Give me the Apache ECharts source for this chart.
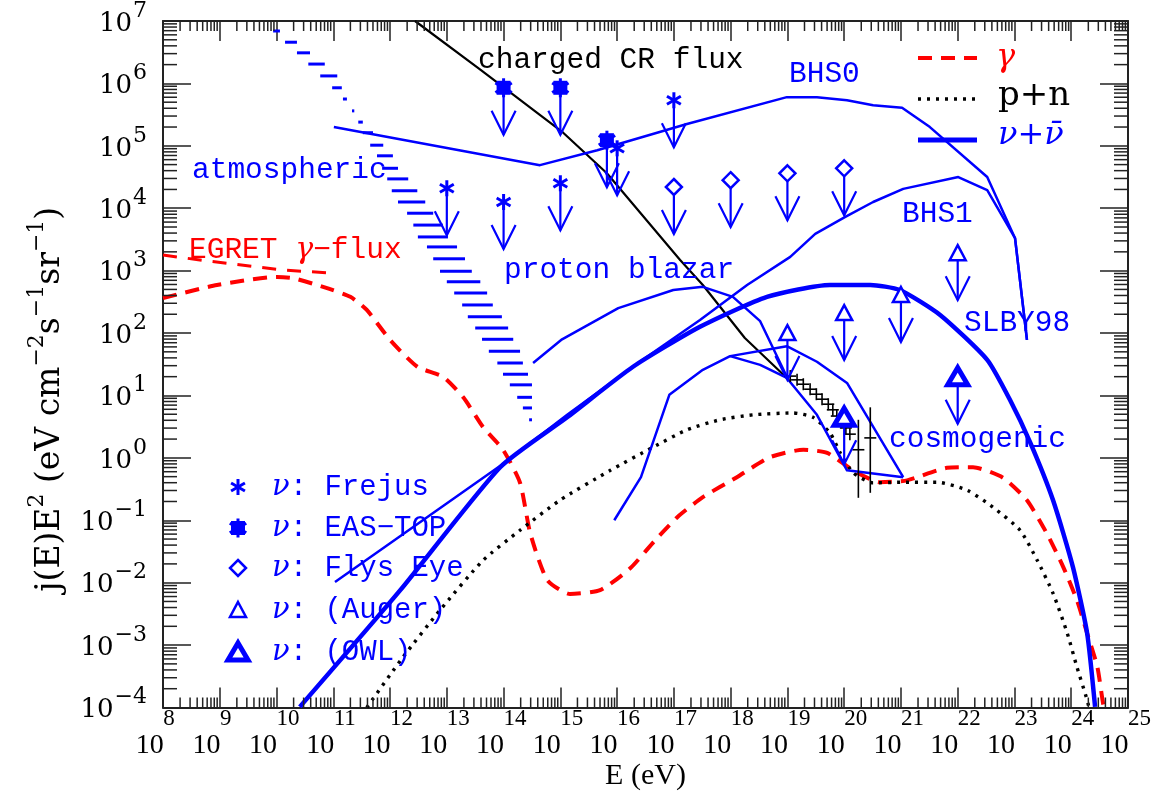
<!DOCTYPE html>
<html><head><meta charset="utf-8">
<script src="https://cdn.jsdelivr.net/npm/echarts@6/dist/echarts.min.js"></script>
<style>html,body{margin:0;padding:0;background:#fff}#c{width:1173px;height:804px}</style>
</head><body><div id="c"></div>
<script>
// All values are log10: x = log10(E / eV), y = log10( j(E)E^2 / eV cm^-2 s^-1 sr^-1 )
const xTickExp = [8,9,10,11,12,13,14,15,16,17,18,19,20,21,22,23,24,25];
const xTickLabels = ['8','9','10','11','12','13','14','15','16','17','18','19','20','21','22','23','24','25'];
const yTickExp = [-4,-3,-2,-1,0,1,2,3,4,5,6,7];
const yTickLabels = ['−4','−3','−2','−1','0','1','2','3','4','5','6','7'];

// charged cosmic ray flux (black solid)
const crE = [12.44, 13.59, 15.05, 15.82, 17.11, 17.51, 18.25, 18.99];
const crF = [7.00, 6.22, 5.21, 4.56, 3.17, 2.77, 1.92, 1.28];
// highest-energy CR data points (black crosses)
const crDataE = [19.05, 19.17, 19.28, 19.40, 19.51, 19.61, 19.72, 19.80, 19.87, 19.95, 20.03, 20.10, 20.25, 20.46];
const crDataF = [1.31, 1.25, 1.18, 1.10, 1.02, 0.94, 0.86, 0.77, 0.67, 0.57, 0.48, 0.38, 0.13, 0.32];
const crDataHi = [null, null, null, null, null, null, null, null, null, null, null, null, 0.61, 0.81];
const crDataLo = [null, null, null, null, null, null, null, null, null, null, null, null, -0.64, -0.56];

// p+n (black dotted)
const pnE = [11.59, 12.23, 12.88, 13.64, 14.29, 14.99, 15.88, 16.63, 17.23, 17.81, 18.40, 19.10, 19.45, 19.75, 19.93, 20.16, 20.51, 21.04, 21.64, 22.17, 22.62, 23.10, 23.40, 23.68, 23.93, 24.10, 24.28, 24.33];
const pnF = [-4.0, -3.19, -2.44, -1.64, -1.16, -0.68, -0.20, 0.17, 0.45, 0.61, 0.69, 0.72, 0.65, 0.40, 0.08, -0.24, -0.40, -0.39, -0.39, -0.52, -0.79, -1.16, -1.64, -2.17, -2.81, -3.35, -3.88, -4.07];

// gamma (red dashed)
const gamE = [8.0, 8.95, 10.01, 10.29, 10.82, 11.30, 11.59, 12.0, 12.48, 12.93, 13.29, 13.64, 13.99, 14.29, 14.47, 14.77, 15.17, 15.70, 16.23, 16.67, 17.06, 17.51, 18.11, 18.69, 19.28, 19.70, 20.16, 20.63, 21.11, 21.81, 22.27, 22.80, 23.22, 23.57, 23.86, 24.10, 24.28, 24.46, 24.56, 24.60];
const gamF = [2.56, 2.77, 2.90, 2.88, 2.74, 2.58, 2.37, 1.89, 1.46, 1.30, 0.97, 0.49, 0.13, -0.40, -1.21, -1.96, -2.18, -2.12, -1.77, -1.32, -0.95, -0.63, -0.31, 0.01, 0.13, 0.08, -0.20, -0.39, -0.36, -0.16, -0.15, -0.32, -0.68, -1.21, -1.75, -2.28, -2.81, -3.35, -3.93, -4.07];
// EGRET gamma flux (red dashed, upper)
const egretE = [8.0, 8.65, 10.11, 10.98];
const egretF = [3.25, 3.17, 3.01, 2.96];

// neutrino models (blue)
const bhs0E = [11.01, 14.64, 15.65, 17.23, 18.99, 19.52, 20.05, 20.51, 21.02, 21.51, 22.52, 23.01, 23.22];
const bhs0F = [5.30, 4.69, 4.93, 5.35, 5.78, 5.78, 5.73, 5.65, 5.61, 5.30, 4.50, 3.52, 1.89];
const bhs1E = [11.03, 14.03, 15.12, 16.40, 17.46, 18.29, 19.05, 19.49, 20.02, 20.51, 21.04, 22.01, 22.52, 23.01, 23.22];
const bhs1F = [-1.99, -0.07, 0.69, 1.54, 2.21, 2.77, 3.22, 3.59, 3.86, 4.10, 4.31, 4.50, 4.29, 3.52, 1.89];
const slbyE = [10.41, 12.18, 13.94, 15.12, 16.28, 17.46, 18.64, 19.75, 20.46, 20.98, 21.69, 22.52, 22.92, 23.28, 23.68, 24.03, 24.28, 24.42];
const slbyF = [-3.99, -2.12, -0.15, 0.65, 1.46, 2.10, 2.58, 2.77, 2.77, 2.69, 2.29, 1.57, 0.93, 0.24, -0.68, -1.75, -2.81, -3.99];
const blazarE = [14.52, 15.03, 16.02, 16.99, 17.51, 18.04, 18.52, 18.99];
const blazarF = [1.52, 1.90, 2.40, 2.69, 2.74, 2.58, 2.19, 1.30];
const cosmo1E = [15.95, 16.42, 16.92, 17.51, 17.99, 18.99, 19.52, 20.05, 21.04];
const cosmo1F = [-1.00, -0.31, 1.01, 1.41, 1.63, 1.79, 1.54, 1.20, -0.31];
const cosmo2E = [17.99, 18.52, 18.99, 19.52, 20.05, 21.04];
const cosmo2F = [1.63, 1.49, 1.28, 0.69, -0.20, -0.31];

// atmospheric neutrino band (horizontal dashes): flux, low-E end, high-E end
const atmF  = [6.84, 6.66, 6.49, 6.31, 6.12, 5.93, 5.75, 5.56, 5.38, 5.21, 5.01, 4.84, 4.64, 4.47, 4.28, 4.10, 3.92, 3.73, 3.54, 3.38, 3.19, 2.99, 2.82, 2.64, 2.45, 2.26, 2.08, 1.90, 1.71, 1.52, 1.34, 1.17, 0.97, 0.80, 0.61];
const atmLo = [9.94, 10.15, 10.36, 10.56, 10.77, 10.98, 11.17, 11.33, 11.44, 11.52, 11.65, 11.77, 11.86, 11.95, 12.03, 12.14, 12.30, 12.41, 12.49, 12.65, 12.76, 12.88, 13.00, 13.13, 13.27, 13.37, 13.50, 13.62, 13.74, 13.89, 13.99, 14.11, 14.24, 14.34, 14.45];
const atmHi = [10.06, 10.36, 10.59, 10.85, 11.07, 11.15, 11.24, 11.37, 11.52, 11.70, 11.88, 12.05, 12.14, 12.32, 12.48, 12.62, 12.76, 12.93, 13.02, 13.18, 13.32, 13.44, 13.59, 13.71, 13.81, 13.97, 14.08, 14.17, 14.29, 14.34, 14.43, 14.50, 14.50, 14.50, 14.50];

// neutrino upper limits (marker at the limit, arrow downward)
const frejusE = [13, 14, 15, 16, 17];
const frejusF = [4.32, 4.10, 4.40, 4.96, 5.73];
const easTopE = [14, 15, 15.82];
const easTopF = [5.93, 5.93, 5.09];
const flysEyeE = [17, 18, 19, 20];
const flysEyeF = [4.34, 4.45, 4.56, 4.64];
const augerE = [19, 20, 21, 22];
const augerF = [2.00, 2.32, 2.61, 3.28];
const owlE = [20, 22];
const owlF = [0.65, 1.30];

const legendNames = ['Frejus', 'EAS−TOP', 'Flys Eye', '(Auger)', '(OWL)'];

// ---------------- styling / building ----------------
const BLUE = '#0000ff', RED = '#ff0000', BLACK = '#000000', AXIS = '#222222';
const MONO = '"Liberation Mono", "DejaVu Sans Mono", monospace';
const SERIF = '"DejaVu Serif", serif';
const TSERIF = '"Liberation Serif", serif';

function pts(xs, ys) { return xs.map((x, i) => [x, ys[i]]); }
function lineSeries(name, xs, ys, color, width, dash, z, smooth) {
  return { name, type: 'line', data: pts(xs, ys), showSymbol: false, symbol: 'none', clip: true, silent: true,
    smooth: smooth || false,
    lineStyle: { color, width, type: dash || 'solid', cap: 'butt', join: 'round' }, z: z || 3 };
}

function markerEls(kind, x, y) {
  const ast = (r, lw) => {
    const c = 0.866 * r, h = 0.5 * r, s = { stroke: BLUE, lineWidth: lw };
    return [
      { type: 'line', shape: { x1: x, y1: y - r, x2: x, y2: y + r }, style: s },
      { type: 'line', shape: { x1: x - c, y1: y - h, x2: x + c, y2: y + h }, style: s },
      { type: 'line', shape: { x1: x - c, y1: y + h, x2: x + c, y2: y - h }, style: s }
    ];
  };
  if (kind === 0) return { els: ast(8, 3), bottom: y };
  if (kind === 1) return { els: [{ type: 'rect', shape: { x: x - 7, y: y - 7, width: 14, height: 14 }, style: { fill: BLUE } }].concat(ast(9.5, 3)), bottom: y };
  if (kind === 2) return { els: [{ type: 'polygon', shape: { points: [[x, y - 8], [x + 8, y], [x, y + 8], [x - 8, y]] }, style: { stroke: BLUE, lineWidth: 2.5, fill: '#fff' } }], bottom: y + 8 };
  if (kind === 3) return { els: [{ type: 'polygon', shape: { points: [[x, y - 8], [x + 8, y + 7], [x - 8, y + 7]] }, style: { stroke: BLUE, lineWidth: 2.5, fill: '#fff' } }], bottom: y + 7 };
  return { els: [{ type: 'polygon', shape: { points: [[x, y - 9], [x + 10, y + 8], [x - 10, y + 8]] }, style: { stroke: BLUE, lineWidth: 5, fill: '#fff' } }], bottom: y + 8 };
}

const limitData = [];
[[frejusE, frejusF, 0], [easTopE, easTopF, 1], [flysEyeE, flysEyeF, 2], [augerE, augerF, 3], [owlE, owlF, 4]]
  .forEach(([es, fs, k]) => es.forEach((e, i) => limitData.push([e, fs[i], k])));

const atmData = atmF.map((f, i) => [atmLo[i], f, atmHi[i]]);
const crPoints = crDataE.map((e, i) => [e, crDataF[i],
  crDataLo[i] === null ? crDataF[i] : crDataLo[i], crDataHi[i] === null ? crDataF[i] : crDataHi[i]]);

const xMin = xTickExp[0], xMax = xTickExp[xTickExp.length - 1];
const yMin = yTickExp[0], yMax = yTickExp[yTickExp.length - 1];

const series = [
  { type: 'custom', name: 'atmospheric', coordinateSystem: 'cartesian2d', silent: true, z: 2, data: atmData,
    renderItem: (p, api) => {
      const a = api.coord([api.value(0), api.value(1)]), b = api.coord([api.value(2), api.value(1)]);
      return { type: 'line', shape: { x1: a[0], y1: a[1], x2: b[0], y2: b[1] }, style: { stroke: BLUE, lineWidth: 3 } };
    } },
  lineSeries('EGRET', egretE, egretF, RED, 3, [14, 11], 3),
  lineSeries('gamma', gamE, gamF, RED, 4, [14, 9], 3, 0.2),
  lineSeries('p+n', pnE, pnF, BLACK, 3.4, [3, 6], 3, 0.2),
  lineSeries('charged CR', crE, crF, BLACK, 2.2, 'solid', 4),
  lineSeries('BHS0', bhs0E, bhs0F, BLUE, 2.5, 'solid', 5),
  lineSeries('BHS1', bhs1E, bhs1F, BLUE, 2.5, 'solid', 5),
  lineSeries('SLBY98', slbyE, slbyF, BLUE, 4.5, 'solid', 5, 0.2),
  lineSeries('proton blazar', blazarE, blazarF, BLUE, 2.5, 'solid', 5),
  lineSeries('cosmogenic1', cosmo1E, cosmo1F, BLUE, 2.5, 'solid', 5),
  lineSeries('cosmogenic2', cosmo2E, cosmo2F, BLUE, 2.5, 'solid', 5),
  { type: 'custom', name: 'CR data', coordinateSystem: 'cartesian2d', silent: true, z: 6, data: crPoints,
    renderItem: (p, api) => {
      const c = api.coord([api.value(0), api.value(1)]);
      const lo = api.coord([api.value(0), api.value(2)]), hi = api.coord([api.value(0), api.value(3)]);
      const s = { stroke: BLACK, lineWidth: 1.6 };
      return { type: 'group', children: [
        { type: 'line', shape: { x1: c[0] - 6, y1: c[1], x2: c[0] + 6, y2: c[1] }, style: s },
        { type: 'line', shape: { x1: c[0], y1: Math.min(c[1] - 6, hi[1]), x2: c[0], y2: Math.max(c[1] + 6, lo[1]) }, style: s }
      ] };
    } },
  { type: 'custom', name: 'limits', coordinateSystem: 'cartesian2d', silent: true, z: 7, data: limitData,
    renderItem: (p, api) => {
      const c = api.coord([api.value(0), api.value(1)]);
      const x = c[0], y = c[1], tip = y + 47;
      const s = { stroke: BLUE, lineWidth: 2.2, fill: 'none' };
      const m = markerEls(api.value(2), x, y);
      const children = [
        { type: 'line', shape: { x1: x, y1: m.bottom, x2: x, y2: tip }, style: s },
        { type: 'polyline', shape: { points: [[x - 12, tip - 24], [x, tip], [x + 12, tip - 24]] }, style: s }
      ].concat(m.els);
      return { type: 'group', children };
    } },
  { type: 'custom', name: 'minor ticks', coordinateSystem: 'cartesian2d', silent: true, z: 8, clip: false, data: [[xMin, yMin]],
    renderItem: (p, api) => {
      const ch = [], s = { stroke: AXIS, lineWidth: 1.5 };
      for (let n = xMin; n < xMax; n++) for (let k = 2; k <= 9; k++) {
        const v = n + Math.log10(k);
        const b = api.coord([v, yMin]), t = api.coord([v, yMax]);
        ch.push({ type: 'line', shape: { x1: b[0], y1: b[1], x2: b[0], y2: b[1] - 10 }, style: s });
        ch.push({ type: 'line', shape: { x1: t[0], y1: t[1], x2: t[0], y2: t[1] + 10 }, style: s });
      }
      for (let n = yMin; n < yMax; n++) for (let k = 2; k <= 9; k++) {
        const v = n + Math.log10(k);
        const l = api.coord([xMin, v]), r = api.coord([xMax, v]);
        ch.push({ type: 'line', shape: { x1: l[0], y1: l[1], x2: l[0] + 14, y2: l[1] }, style: s });
        ch.push({ type: 'line', shape: { x1: r[0], y1: r[1], x2: r[0] - 14, y2: r[1] }, style: s });
      }
      return { type: 'group', children: ch };
    } }
];

// ---- text & legends ----
const annotations = [
  { t: 'charged CR flux', x: 478, y: 60, c: BLACK },
  { t: 'BHS0', x: 789, y: 74, c: BLUE },
  { t: 'atmospheric', x: 192, y: 170, c: BLUE },
  { t: 'proton blazar', x: 504, y: 270, c: BLUE },
  { t: 'BHS1', x: 902, y: 214, c: BLUE },
  { t: 'SLBY98', x: 964, y: 323, c: BLUE },
  { t: 'cosmogenic', x: 889, y: 439, c: BLUE }
];
const graphic = annotations.map(a => ({ type: 'text', x: a.x, y: a.y, silent: true, z: 20,
  style: { text: a.t, fill: a.c, font: '29.5px ' + MONO, align: 'left', verticalAlign: 'middle' } }));
graphic.push({ type: 'text', x: 189, y: 250, z: 20, silent: true,
  style: { text: '{r|EGRET }{g|γ}{r|−flux}', align: 'left', verticalAlign: 'middle',
    rich: { r: { fill: RED, font: '29.5px ' + MONO }, g: { fill: RED, font: 'italic 30px ' + SERIF } } } });

// bottom-left legend
const legRowY = [487, 528, 568, 610, 652];
legendNames.forEach((nm, i) => {
  const m = markerEls(i, 238, legRowY[i]);
  graphic.push({ type: 'group', z: 20, silent: true, children: m.els });
  graphic.push({ type: 'text', x: 272, y: legRowY[i], z: 20, silent: true,
    style: { text: '{g|ν}{r|: ' + nm + '}', align: 'left', verticalAlign: 'middle',
      rich: { r: { fill: BLUE, font: '29px ' + MONO }, g: { fill: BLUE, font: 'italic 29px ' + SERIF } } } });
});
// top-right legend
graphic.push({ type: 'line', z: 20, silent: true, shape: { x1: 918, y1: 58, x2: 977, y2: 58 }, style: { stroke: RED, lineWidth: 4, lineDash: [14, 9] } });
graphic.push({ type: 'line', z: 20, silent: true, shape: { x1: 918, y1: 99, x2: 977, y2: 99 }, style: { stroke: BLACK, lineWidth: 3.4, lineDash: [3, 6] } });
graphic.push({ type: 'line', z: 20, silent: true, shape: { x1: 918, y1: 140, x2: 977, y2: 140 }, style: { stroke: BLUE, lineWidth: 5 } });
graphic.push({ type: 'text', x: 996, y: 58, z: 20, silent: true, style: { text: 'γ', fill: RED, font: 'italic 32px ' + SERIF, align: 'left', verticalAlign: 'middle' } });
graphic.push({ type: 'text', x: 998, y: 96, z: 20, silent: true, style: { text: 'p+n', fill: BLACK, font: '34px ' + SERIF, align: 'left', verticalAlign: 'middle' } });
graphic.push({ type: 'text', x: 998, y: 136, z: 20, silent: true, style: { text: 'ν+ν\u0304', fill: BLUE, font: 'italic 32px ' + SERIF, align: 'left', verticalAlign: 'middle' } });

const supX = { fontFamily: TSERIF, fontSize: 23, lineHeight: 23, color: BLACK };
const axisLine = { show: true, onZero: false, lineStyle: { color: AXIS, width: 2 } };
const option = {
  animation: false,
  backgroundColor: '#ffffff',
  grid: { left: 163, right: 45, top: 21, bottom: 96.5, containLabel: false, outerBoundsMode: 'none' },
  xAxis: [
    { type: 'value', min: xMin, max: xMax, interval: 1, position: 'bottom', axisLine, splitLine: { show: false },
      axisTick: { show: true, inside: true, length: 20, lineStyle: { color: AXIS, width: 1.5 } },
      axisLabel: { show: true, margin: 12, hideOverlap: false, align: 'center', color: BLACK,
        formatter: v => {
          const e = xTickLabels[xTickExp.indexOf(Math.round(v))];
          return '{b|10}{' + (e.length > 1 ? 's2' : 's1') + '|' + e + '}';
        },
        rich: { b: { fontFamily: TSERIF, fontSize: 28, lineHeight: 28, width: 27, padding: [24, 0, 0, 0], color: BLACK },
                s1: Object.assign({ padding: [0, 15, 29, 0] }, supX),
                s2: Object.assign({ padding: [0, 4, 29, 0] }, supX) } },
      name: 'E (eV)', nameLocation: 'middle', nameGap: 54, nameMoveOverlap: false,
      nameTextStyle: { fontFamily: TSERIF, fontSize: 30, color: BLACK } },
    { type: 'value', min: xMin, max: xMax, interval: 1, position: 'top', axisLine, splitLine: { show: false },
      axisTick: { show: true, inside: true, length: 20, lineStyle: { color: AXIS, width: 1.5 } },
      axisLabel: { show: false } }
  ],
  yAxis: [
    { type: 'value', min: yMin, max: yMax, interval: 1, position: 'left', axisLine, splitLine: { show: false },
      axisTick: { show: true, inside: true, length: 28, lineStyle: { color: AXIS, width: 1.5 } },
      axisLabel: { show: true, margin: 16, hideOverlap: false, align: 'right', color: BLACK,
        formatter: v => '{b|10}{s|' + yTickLabels[yTickExp.indexOf(Math.round(v))] + '}',
        rich: { b: { fontFamily: SERIF, fontSize: 26, lineHeight: 26, padding: [11, 0, 5, 0], color: BLACK },
                s: { fontFamily: SERIF, fontSize: 22, lineHeight: 22, padding: [0, 0, 20, 1], color: BLACK } } },
      name: '{n|j(E)E}{s|2}{n| (eV cm}{s|−2}{n|s}{s|−1}{n|sr}{s|−1}{n|)}',
      nameLocation: 'middle', nameRotate: 90, nameGap: 100, nameMoveOverlap: false,
      nameTextStyle: { color: BLACK, padding: [0, 70, 0, 0], rich: {
        n: { fontFamily: SERIF, fontSize: 33, lineHeight: 33, padding: [8, 0, 0, 0], color: BLACK },
        s: { fontFamily: SERIF, fontSize: 22, lineHeight: 22, padding: [0, 0, 19, 0], color: BLACK } } } },
    { type: 'value', min: yMin, max: yMax, interval: 1, position: 'right', axisLine, splitLine: { show: false },
      axisTick: { show: true, inside: true, length: 28, lineStyle: { color: AXIS, width: 1.5 } },
      axisLabel: { show: false } }
  ],
  series,
  graphic
};
const chart = echarts.init(document.getElementById('c'), null, { renderer: 'canvas' });
chart.setOption(option);
</script></body></html>
